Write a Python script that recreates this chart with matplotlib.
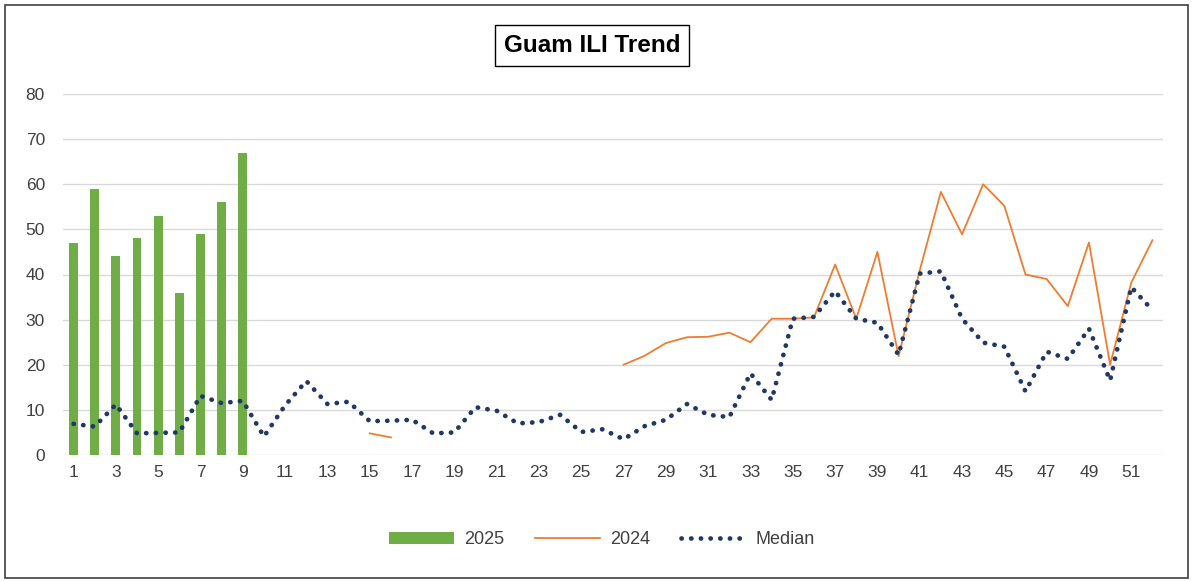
import numpy as np
import matplotlib
matplotlib.use("Agg")
import matplotlib.pyplot as plt
from matplotlib.patches import Rectangle

plt.rcParams['font.family'] = ['Liberation Sans Narrow', 'Liberation Sans', 'DejaVu Sans']

# Weekly ILI data
weeks = np.arange(1, 53)

weeks_2025 = np.arange(1, 10)
ili_2025 = [47, 59, 44, 48, 53, 36, 49, 56, 67]

nan = np.nan
ili_2024 = [nan] * 14 + [4.8, 3.9] + [nan] * 10 + [
    20.0, 22.0, 24.8, 26.1, 26.2, 27.1, 25.0, 30.2, 30.2, 30.5,
    42.2, 30.2, 45.0, 21.9, 40.9, 58.3, 48.9, 60.0, 55.2, 40.0,
    39.0, 33.0, 47.1, 20.0, 38.2, 47.6]

ili_median = [
    6.9, 6.3, 11.2, 4.8, 4.9, 5.0, 13.1, 11.5, 12.0, 4.1,
    11.0, 16.4, 11.3, 11.8, 7.5, 7.6, 7.8, 4.8, 5.0, 10.6,
    9.8, 7.0, 7.3, 8.9, 5.1, 5.7, 3.5, 6.4, 7.8, 11.3,
    8.9, 8.4, 18.1, 12.2, 30.2, 30.6, 36.3, 30.2, 29.3, 22.2,
    40.2, 40.7, 30.2, 24.9, 24.0, 14.1, 22.9, 21.3, 28.0, 16.5,
    37.2, 32.1]

W, H = 1193, 581
fig = plt.figure(figsize=(W / 100, H / 100), dpi=100)
ax = fig.add_axes([63 / W, 1 - 455 / H, 1100 / W, 361 / H])

bars = ax.bar(weeks_2025, ili_2025, width=0.42, color='#70AD47', label='2025', zorder=2)
l24, = ax.plot(weeks, ili_2024, color='#ED7D31', lw=1.3, label='2024', zorder=3)
lmed, = ax.plot(weeks, ili_median, color='#203864', lw=3.4, dashes=(0.05, 2.0),
                dash_capstyle='round', label='Median', zorder=4)

ax.set_xlim(0.5, 52.5)
ax.set_ylim(0, 80)
ax.set_yticks(np.arange(0, 81, 10))
ax.set_xticks(weeks[::2])
ax.grid(axis='y', color='#D9D9D9', lw=1.0, zorder=0)
ax.set_axisbelow(True)
for s in ax.spines.values():
    s.set_visible(False)
ax.tick_params(length=0, labelsize=12.5, labelcolor='#404040')
ax.tick_params(axis='y', pad=13)
ax.tick_params(axis='x', pad=7)

fig.text(592 / W, 1 - 45.5 / H, 'Guam ILI Trend', fontsize=17.5, fontweight='bold',
         ha='center', va='center', family=['Liberation Sans', 'DejaVu Sans'],
         bbox=dict(boxstyle='square,pad=0.38', fc='white', ec='black', lw=1.0))

leg = ax.legend([bars, l24, lmed], ['2025', '2024', 'Median'],
                loc='center', bbox_to_anchor=(0.49, -0.235), ncol=3, frameon=False,
                fontsize=13, handlelength=3.6, columnspacing=1.7, handletextpad=0.55)
for t in leg.get_texts():
    t.set_color('#404040')

fig.add_artist(Rectangle((5 / W, 3 / H), 1183 / W, 573 / H, transform=fig.transFigure,
                         fill=False, ec='#404040', lw=1.2))

fig.savefig('out.png', dpi=100)
